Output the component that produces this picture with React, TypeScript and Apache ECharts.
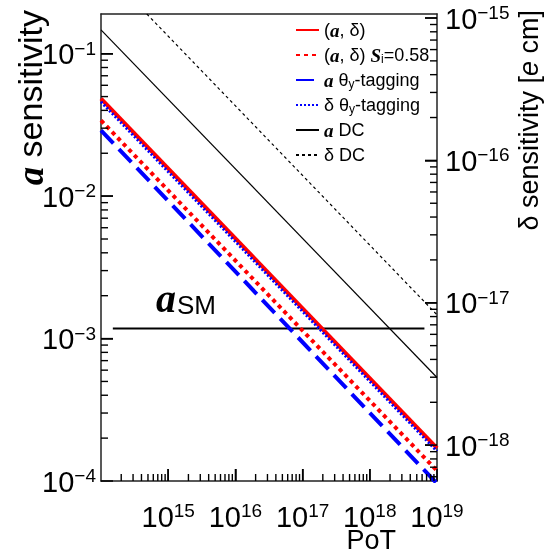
import { useEffect, useRef } from "react";
import * as echarts from "echarts";

// Axis ranges
const potRange = [1e14, 1e19];
const aRange = [1e-4, 0.19];
const deltaRange = [5.6e-19, 1.067e-15];

// Series (straight lines in log-log space, endpoints)
const seriesNames = ["(a, δ)", "(a, δ) Si=0.58", "a θy-tagging", "δ θy-tagging", "a DC", "δ DC"];
const legendLabels = [
  "({ai|a}, δ)",
  "({ai|a}, δ) {ai|S}{sub|i}=0.58",
  "{ai|a} θ{sub|y}-tagging",
  "δ θ{sub|y}-tagging",
  "{ai|a} DC",
  "δ DC",
];
const pot = [1e14, 1e19];
const aDelta = [0.0484, 1.7e-4];
const aDeltaSi = [0.034, 1.18e-4];
const aTheta = [0.029, 9.6e-5];
const deltaTheta = [2.58e-16, 9.07e-19]; // e cm (right axis)
const aDC = [0.147, 5.33e-4];
const deltaDC = [2.3e-15, 8.23e-18]; // e cm (right axis)
const aSMPot = [1.5e14, 6.5e18];
const aSMValue = [1.177e-3, 1.177e-3];

// Tick positions
const xMajorTicks = [1e15, 1e16, 1e17, 1e18];
const aMajorTicks = [1e-3, 1e-2, 1e-1];
const deltaMajorTicks = [1e-18, 1e-17, 1e-16, 1e-15];
const minorTicks = (lo: number, hi: number) => {
  const out: number[] = [];
  for (let e = Math.floor(Math.log10(lo)); e <= Math.ceil(Math.log10(hi)); e++) {
    for (let k = 2; k <= 9; k++) {
      const v = k * Math.pow(10, e);
      if (v > lo * 1.0001 && v < hi * 0.9999) out.push(v);
    }
  }
  return out;
};
const xMinorTicks = minorTicks(potRange[0], potRange[1]);
const aMinorTicks = minorTicks(aRange[0], aRange[1]);
const deltaMinorTicks = minorTicks(deltaRange[0], deltaRange[1]);

const SANS = "Liberation Sans";
const SERIF = "Liberation Serif";

const expLabel = (v: number) => {
  const e = Math.round(Math.log10(v));
  const s = e < 0 ? "−" + -e : String(e);
  return `{b|10}{s|${s}}`;
};

const labelRich = {
  b: { fontFamily: SANS, fontSize: 29, lineHeight: 30, verticalAlign: "bottom", padding: [4, 0, 0, 0], color: "#000" },
  s: { fontFamily: SANS, fontSize: 19, lineHeight: 20, verticalAlign: "top", color: "#000" },
};

const zip = (xs: number[], ys: number[]) => xs.map((x, i) => [x, ys[i]]);

const textGraphics = [
  {
    type: "text",
    x: 30,
    y: 10,
    rotation: Math.PI / 2,
    style: {
      text: "{ai|a} sensitivity",
      fontFamily: SANS,
      fontSize: 34,
      fill: "#000",
      align: "right",
      verticalAlign: "middle",
      rich: { ai: { fontFamily: SERIF, fontWeight: "bold", fontStyle: "italic", fontSize: 37 } },
    },
  },
  {
    type: "text",
    x: 529,
    y: 10,
    rotation: Math.PI / 2,
    style: {
      text: "δ sensitivity [{ei|e} cm]",
      fontFamily: SANS,
      fontSize: 27,
      fill: "#000",
      align: "right",
      verticalAlign: "middle",
      rich: { ei: { fontFamily: SANS, fontStyle: "italic", fontSize: 27 } },
    },
  },
  {
    type: "text",
    x: 396,
    y: 540,
    style: { text: "PoT", fontFamily: SANS, fontSize: 27, fill: "#000", align: "right", verticalAlign: "middle" },
  },
  {
    type: "text",
    x: 156,
    y: 278,
    style: {
      text: "{ai|a}{sm|SM}",
      fill: "#000",
      align: "left",
      verticalAlign: "top",
      rich: {
        ai: { fontFamily: SERIF, fontWeight: "bold", fontStyle: "italic", fontSize: 40, lineHeight: 40, verticalAlign: "top", padding: [0, 1, 10, 0] },
        sm: { fontFamily: SANS, fontSize: 26, lineHeight: 26, verticalAlign: "bottom" },
      },
    },
  },
];

export default function App() {
  const ref = useRef<HTMLDivElement>(null);
  useEffect(() => {
    const chart = echarts.init(ref.current!, undefined, { renderer: "svg" });
    const lineSeries = (name: string, data: number[][], color: string, width: number, type: any, yAxisIndex = 0) => ({
      name,
      type: "line",
      data,
      yAxisIndex,
      symbol: "none",
      showSymbol: false,
      z: 3,
      lineStyle: { color, width, type },
      itemStyle: { color },
    });
    const axisLine = { show: true, lineStyle: { color: "#222", width: 1.5 } };
    const majorTick = { show: true, inside: true, length: 12, lineStyle: { color: "#000000", width: 1.5 } };
    chart.setOption({
      animation: false,
      grid: { left: 101, right: 110, top: 12, bottom: 73 },
      legend: {
        data: seriesNames,
        orient: "vertical",
        left: 295,
        top: 20,
        padding: 0,
        itemWidth: 23,
        itemHeight: 12,
        itemGap: 5,
        itemStyle: { opacity: 0 },
        formatter: (name: string) => legendLabels[seriesNames.indexOf(name)],
        textStyle: {
          fontFamily: SANS,
          fontSize: 18,
          lineHeight: 20,
          color: "#000",
          rich: {
            ai: { fontFamily: SERIF, fontWeight: "bold", fontStyle: "italic", fontSize: 19, lineHeight: 20 },
            sub: { fontFamily: SANS, fontSize: 12, lineHeight: 12, verticalAlign: "bottom" },
          },
        },
      },
      xAxis: [
        {
          type: "log",
          min: potRange[0],
          max: potRange[1],
          axisLine,
          axisTick: majorTick,
          splitLine: { show: false },
          axisLabel: { margin: 20, formatter: expLabel, rich: labelRich, showMinLabel: false },
        },
        {
          type: "log",
          position: "top",
          min: potRange[0],
          max: potRange[1],
          axisLine,
          axisTick: { show: false },
          splitLine: { show: false },
          axisLabel: { show: false },
        },
      ],
      yAxis: [
        {
          type: "log",
          min: aRange[0],
          max: aRange[1],
          axisLine,
          axisTick: majorTick,
          splitLine: { show: false },
          axisLabel: { margin: 5, formatter: expLabel, rich: labelRich, showMaxLabel: false },
        },
        {
          type: "log",
          min: deltaRange[0],
          max: deltaRange[1],
          position: "right",
          axisLine,
          axisTick: majorTick,
          splitLine: { show: false },
          axisLabel: { margin: 8, formatter: expLabel, rich: labelRich, showMaxLabel: false, showMinLabel: false },
        },
      ],
      series: [
        lineSeries("aSM", zip(aSMPot, aSMValue), "#000", 2, "solid"),
        lineSeries(seriesNames[0], zip(pot, aDelta), "#ff0000", 4, "solid"),
        lineSeries(seriesNames[1], zip(pot, aDeltaSi), "#ff0000", 4, [4, 4]),
        lineSeries(seriesNames[2], zip(pot, aTheta), "#0000ff", 4, [18, 8]),
        lineSeries(seriesNames[3], zip(pot, deltaTheta), "#0000ff", 3, [2, 2], 1),
        lineSeries(seriesNames[4], zip(pot, aDC), "#000", 1.2, "solid"),
        lineSeries(seriesNames[5], zip(pot, deltaDC), "#000", 1.2, [3, 3], 1),
      ],
    });

    // Tick marks placed through the chart's own axis scales
    const ticks: any[] = [];
    const tick = (x1: number, y1: number, x2: number, y2: number) =>
      ticks.push({ type: "line", z: 100, silent: true, shape: { x1, y1, x2, y2 }, style: { stroke: "#000000", lineWidth: 1.4 } });
    const toPx = (yAxisIndex: number, v: number[]) => chart.convertToPixel({ xAxisIndex: 0, yAxisIndex }, v) as number[];
    xMajorTicks.forEach((v) => { const p = toPx(0, [v, aRange[0]]); tick(p[0], p[1], p[0], p[1] - 12); });
    xMinorTicks.forEach((v) => { const p = toPx(0, [v, aRange[0]]); tick(p[0], p[1], p[0], p[1] - 7); });
    aMajorTicks.forEach((v) => { const p = toPx(0, [potRange[0], v]); tick(p[0], p[1], p[0] + 12, p[1]); });
    aMinorTicks.forEach((v) => { const p = toPx(0, [potRange[0], v]); tick(p[0], p[1], p[0] + 7, p[1]); });
    deltaMajorTicks.forEach((v) => { const p = toPx(1, [potRange[1], v]); tick(p[0], p[1], p[0] - 12, p[1]); });
    deltaMinorTicks.forEach((v) => { const p = toPx(1, [potRange[1], v]); tick(p[0], p[1], p[0] - 7, p[1]); });

    chart.setOption({ graphic: [...textGraphics, ...ticks.filter((t) => isFinite(t.shape.x1) && isFinite(t.shape.y1))] });
    return () => chart.dispose();
  }, []);
  return <div ref={ref} style={{ position: "fixed", left: 0, top: 0, width: 547, height: 554 }} />;
}
